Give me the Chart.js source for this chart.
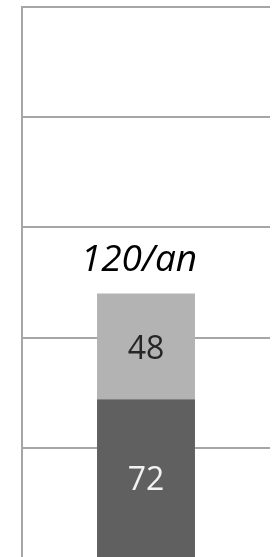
<!DOCTYPE html>
<html>
<head>
<meta charset="utf-8">
<script src="https://cdn.jsdelivr.net/npm/chart.js@4/dist/chart.umd.min.js"></script>
<style>
  html, body { margin: 0; padding: 0; background: #fff; overflow: hidden; }
  #wrap { position: relative; width: 276px; height: 560px; }
</style>
</head>
<body>
<div id="wrap"><canvas id="chart" width="276" height="560"></canvas></div>
<script>
const categories = [''];
const baseValues = [72];
const topValues = [48];
const totalLabel = ['120/an'];
const yTicks = [0, 50, 100, 150, 200, 250];

// draws the numbers inside each segment and the total above the bar
const barLabels = {
    id: 'barLabels',
    afterDatasetsDraw(chart) {
        const ctx = chart.ctx;
        ctx.save();
        ctx.textAlign = 'center';
        ctx.textBaseline = 'middle';
        chart.data.datasets.forEach((ds, i) => {
            const meta = chart.getDatasetMeta(i);
            meta.data.forEach((bar, j) => {
                const mid = (bar.y + bar.base) / 2;
                ctx.font = '32px "Open Sans"';
                ctx.fillStyle = ds.labelColor;
                ctx.fillText(ds.data[j], bar.x, mid + 3);
            });
        });
        const last = chart.getDatasetMeta(chart.data.datasets.length - 1);
        last.data.forEach((bar, j) => {
            ctx.font = 'italic 37px "Open Sans"';
            ctx.fillStyle = '#000';
            ctx.textBaseline = 'alphabetic';
            ctx.fillText(totalLabel[j], bar.x - 7, bar.y - 23);
        });
        ctx.restore();
    }
};

const ctx = document.getElementById('chart').getContext('2d');
const chart = new Chart(ctx, {
    type: 'bar',
    data: {
        labels: categories,
        datasets: [
            {
                data: baseValues,
                backgroundColor: '#606060',
                labelColor: '#f2f2f2',
                borderWidth: 0
            },
            {
                data: topValues,
                backgroundColor: '#b3b3b3',
                labelColor: '#262626',
                borderWidth: 0
            }
        ]
    },
    options: {
        responsive: false,
        animation: false,
        devicePixelRatio: 1,
        layout: { padding: { left: 21, right: 6, top: 7, bottom: 2 } },
        datasets: {
            bar: { categoryPercentage: 1, barPercentage: 0.395 }
        },
        plugins: {
            legend: { display: false },
            tooltip: { enabled: false }
        },
        scales: {
            x: {
                stacked: true,
                display: false
            },
            y: {
                stacked: true,
                min: yTicks[0],
                max: yTicks[yTicks.length - 1],
                afterBuildTicks: scale => {
                    scale.ticks = yTicks.map(v => ({ value: v }));
                },
                afterFit: scale => { scale.width = 1; },
                ticks: { display: false },
                grid: { color: '#a6a6a6', lineWidth: 2, drawTicks: false },
                border: { display: true, color: '#a6a6a6', width: 2 }
            }
        }
    },
    plugins: [barLabels]
});
</script>
</body>
</html>
